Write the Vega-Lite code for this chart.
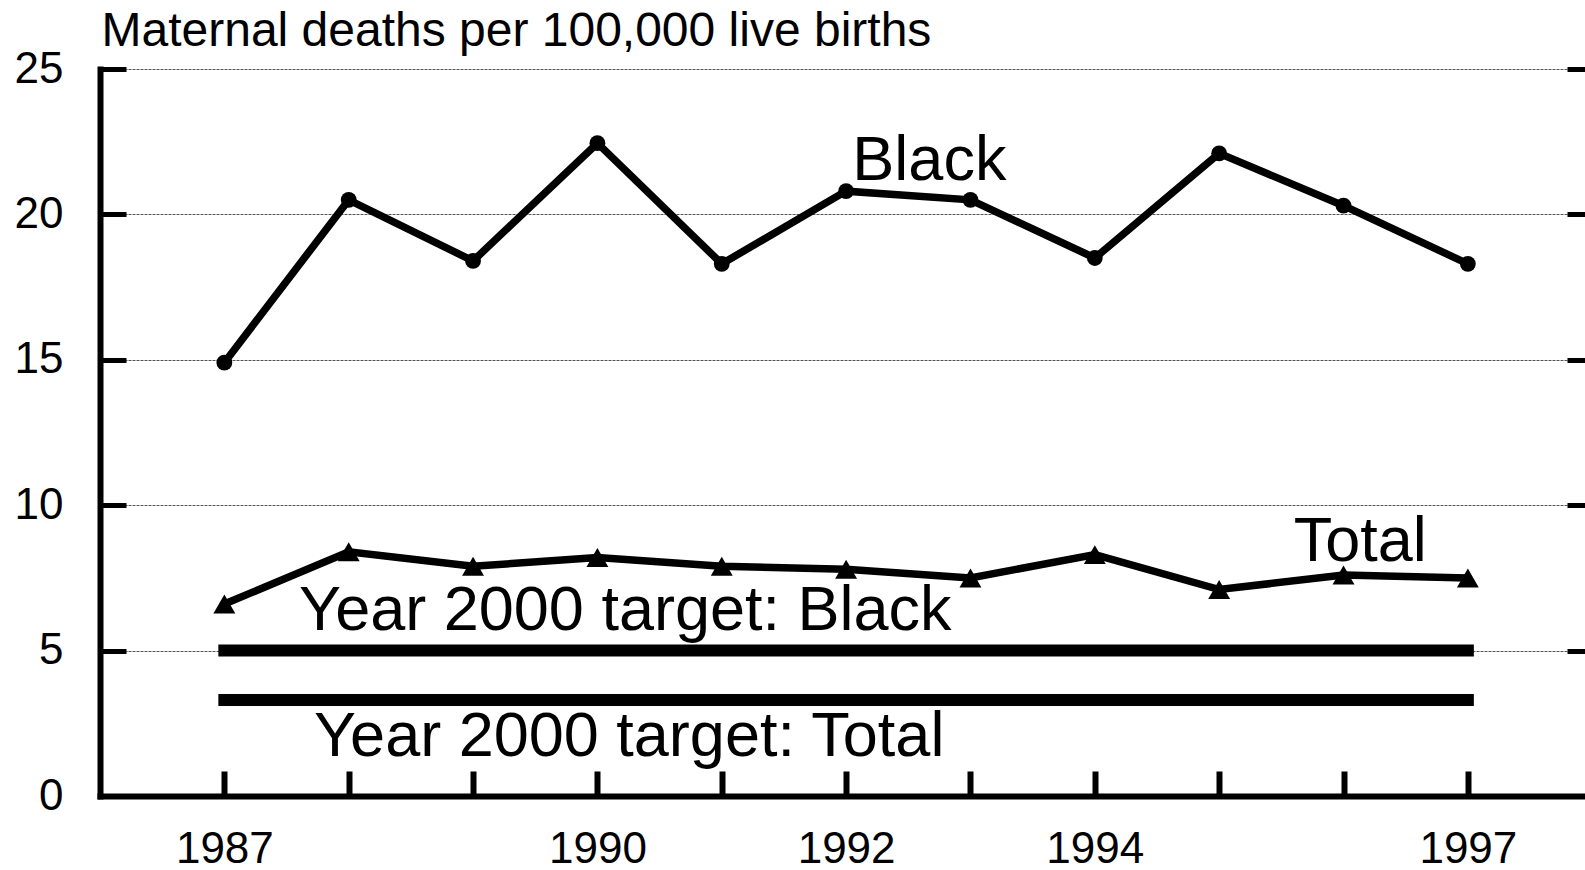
{
  "$schema": "https://vega.github.io/schema/vega-lite/v6.json",
  "width": 1485,
  "height": 727,
  "autosize": {"type": "none"},
  "padding": {"left": 100, "top": 69, "right": 0, "bottom": 74},
  "background": "white",
  "config": {"font": "Liberation Sans", "view": {"stroke": null}},
  "datasets": {
    "series": [
      {"series": "Black", "year": 1987, "value": 14.9},
      {"series": "Black", "year": 1988, "value": 20.5},
      {"series": "Black", "year": 1989, "value": 18.4},
      {"series": "Black", "year": 1990, "value": 22.45},
      {"series": "Black", "year": 1991, "value": 18.3},
      {"series": "Black", "year": 1992, "value": 20.8},
      {"series": "Black", "year": 1993, "value": 20.5},
      {"series": "Black", "year": 1994, "value": 18.5},
      {"series": "Black", "year": 1995, "value": 22.1},
      {"series": "Black", "year": 1996, "value": 20.3},
      {"series": "Black", "year": 1997, "value": 18.3},
      {"series": "Total", "year": 1987, "value": 6.6},
      {"series": "Total", "year": 1988, "value": 8.4},
      {"series": "Total", "year": 1989, "value": 7.9},
      {"series": "Total", "year": 1990, "value": 8.2},
      {"series": "Total", "year": 1991, "value": 7.9},
      {"series": "Total", "year": 1992, "value": 7.8},
      {"series": "Total", "year": 1993, "value": 7.5},
      {"series": "Total", "year": 1994, "value": 8.3},
      {"series": "Total", "year": 1995, "value": 7.1},
      {"series": "Total", "year": 1996, "value": 7.6},
      {"series": "Total", "year": 1997, "value": 7.5}
    ],
    "targets": [
      {"series": "Target Black", "year": 1987, "value": 5.0},
      {"series": "Target Black", "year": 1997, "value": 5.0},
      {"series": "Target Total", "year": 1987, "value": 3.3},
      {"series": "Target Total", "year": 1997, "value": 3.3}
    ],
    "labels": [
      {"label": "Black", "year": 1992.05, "value": 21.18},
      {"label": "Total", "year": 1995.6, "value": 8.08},
      {"label": "Year 2000 target: Black", "year": 1987.6, "value": 5.71},
      {"label": "Year 2000 target: Total", "year": 1987.72, "value": 1.38}
    ]
  },
  "layer": [
    {
      "data": {"name": "series"},
      "mark": {"type": "line", "color": "black", "strokeWidth": 7.5, "strokeJoin": "miter"},
      "encoding": {
        "x": {
          "field": "year", "type": "quantitative",
          "scale": {"domain": [1986, 1997.942], "nice": false, "zero": false},
          "axis": {
            "title": null,
            "values": [1987, 1988, 1989, 1990, 1991, 1992, 1993, 1994, 1995, 1996, 1997],
            "format": "d",
            "labelExpr": "indexof([1987,1990,1992,1994,1997], datum.value) >= 0 ? datum.label : ''",
            "grid": false,
            "domain": true, "domainColor": "black", "domainWidth": 6, "domainCap": "square",
            "ticks": true, "tickSize": -25, "tickWidth": 6, "tickColor": "black",
            "labelFontSize": 44, "labelColor": "black", "labelPadding": 56,
            "labelFlush": false, "labelOverlap": false, "labelBound": false
          }
        },
        "y": {
          "field": "value", "type": "quantitative",
          "scale": {"domain": [0, 25], "nice": false, "zero": true},
          "axis": {
            "title": "Maternal deaths per 100,000 live births",
            "titleAngle": 0, "titleAlign": "left", "titleBaseline": "alphabetic",
            "titleX": 1, "titleY": -24, "titleFontSize": 48, "titleFontWeight": "normal", "titleColor": "black",
            "values": [0, 5, 10, 15, 20, 25],
            "grid": true, "gridColor": "#555555", "gridDash": [3, 1], "gridWidth": 1,
            "domain": true, "domainColor": "black", "domainWidth": 6, "domainCap": "square",
            "ticks": true, "tickSize": -26, "tickWidth": 5, "tickColor": "black",
            "labelFontSize": 44, "labelColor": "black", "labelPadding": 63,
            "labelFlush": false, "labelOverlap": false, "labelBound": false
          }
        },
        "detail": {"field": "series"}
      }
    },
    {
      "data": {"name": "series"},
      "transform": [{"filter": "datum.series === 'Black'"}],
      "mark": {"type": "point", "shape": "circle", "filled": true, "color": "black", "size": 250, "opacity": 1},
      "encoding": {
        "x": {"field": "year", "type": "quantitative"},
        "y": {
          "field": "value", "type": "quantitative",
          "axis": {
            "orient": "right", "title": null,
            "values": [5, 10, 15, 20, 25],
            "grid": false, "domain": false, "labels": false,
            "ticks": true, "tickSize": -18, "tickWidth": 5, "tickColor": "black"
          }
        }
      }
    },
    {
      "data": {"name": "series"},
      "transform": [{"filter": "datum.series === 'Total'"}],
      "mark": {"type": "point", "shape": "triangle-up", "filled": true, "color": "black", "size": 480, "opacity": 1},
      "encoding": {
        "x": {"field": "year", "type": "quantitative"},
        "y": {"field": "value", "type": "quantitative", "axis": null}
      }
    },
    {
      "data": {"name": "targets"},
      "mark": {"type": "line", "color": "black", "strokeWidth": 12, "strokeCap": "square"},
      "encoding": {
        "x": {"field": "year", "type": "quantitative"},
        "y": {"field": "value", "type": "quantitative", "axis": null},
        "detail": {"field": "series"}
      }
    },
    {
      "data": {"name": "labels"},
      "mark": {"type": "text", "align": "left", "baseline": "alphabetic", "fontSize": 63, "color": "black", "font": "Liberation Sans"},
      "encoding": {
        "x": {"field": "year", "type": "quantitative"},
        "y": {"field": "value", "type": "quantitative", "axis": null},
        "text": {"field": "label"}
      }
    }
  ],
  "resolve": {"axis": {"y": "independent"}}
}
